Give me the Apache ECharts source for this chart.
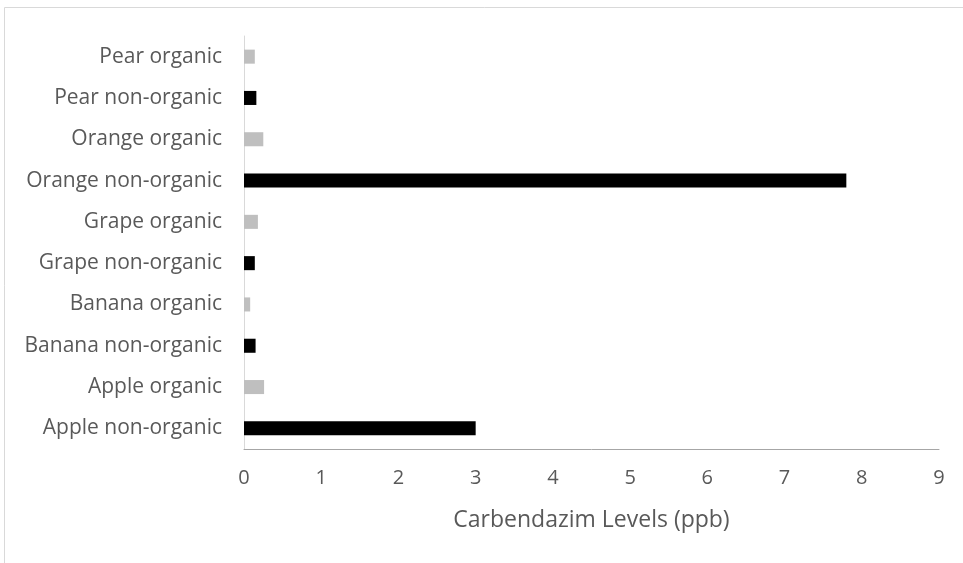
<!DOCTYPE html>
<html>
<head>
<meta charset="utf-8">
<script src="https://cdn.jsdelivr.net/npm/echarts@6/dist/echarts.min.js"></script>
<style>
  html, body { margin: 0; padding: 0; background: #fff; }
  #box_chart { width: 963px; height: 563px; }
</style>
</head>
<body>
<div id="box_chart"></div>
<script>
// categories from bottom to top
var categories = [
  'Apple non-organic',
  'Apple organic',
  'Banana non-organic',
  'Banana organic',
  'Grape non-organic',
  'Grape organic',
  'Orange non-organic',
  'Orange organic',
  'Pear non-organic',
  'Pear organic'
];
var levels = [3.0, 0.26, 0.15, 0.08, 0.14, 0.18, 7.8, 0.25, 0.16, 0.14];
var xTicks = [0, 1, 2, 3, 4, 5, 6, 7, 8, 9];
var axisTitle = 'Carbendazim Levels (ppb)';

var myChart = echarts.init(document.getElementById('box_chart'));
var options = {
  animation: false,
  textStyle: { fontFamily: 'Open Sans' },
  graphic: [
    {
      type: 'rect',
      shape: { x: 4.5, y: 7.5, width: 1000, height: 600 },
      style: { fill: 'none', stroke: '#d9d9d9', lineWidth: 1 },
      silent: true
    }
  ],
  grid: {
    left: 244,
    right: 24,
    top: 36,
    bottom: 114
  },
  xAxis: {
    type: 'value',
    min: xTicks[0],
    max: xTicks[xTicks.length - 1],
    interval: 1,
    name: axisTitle,
    nameLocation: 'middle',
    nameGap: 60,
    nameTextStyle: { color: '#595959', fontSize: 23 },
    axisTick: { show: false },
    axisLabel: { color: '#595959', fontSize: 20, margin: 19 },
    axisLine: { show: true, lineStyle: { color: '#a6a6a6', width: 1 } },
    splitLine: { show: false }
  },
  yAxis: {
    type: 'category',
    data: categories,
    axisTick: { show: false },
    axisLabel: { color: '#595959', fontSize: 21, margin: 22 },
    axisLine: { show: true, lineStyle: { color: '#d9d9d9', width: 1 } },
    splitLine: { show: false }
  },
  series: [
    {
      name: 'Carbendazim',
      type: 'bar',
      barWidth: '34%',
      data: levels,
      itemStyle: {
        color: function (p) {
          return categories[p.dataIndex].indexOf('non-organic') >= 0 ? '#000000' : '#bfbfbf';
        }
      }
    }
  ]
};
myChart.setOption(options);
window.addEventListener('resize', function () {
  myChart.resize();
});
</script>
</body>
</html>
